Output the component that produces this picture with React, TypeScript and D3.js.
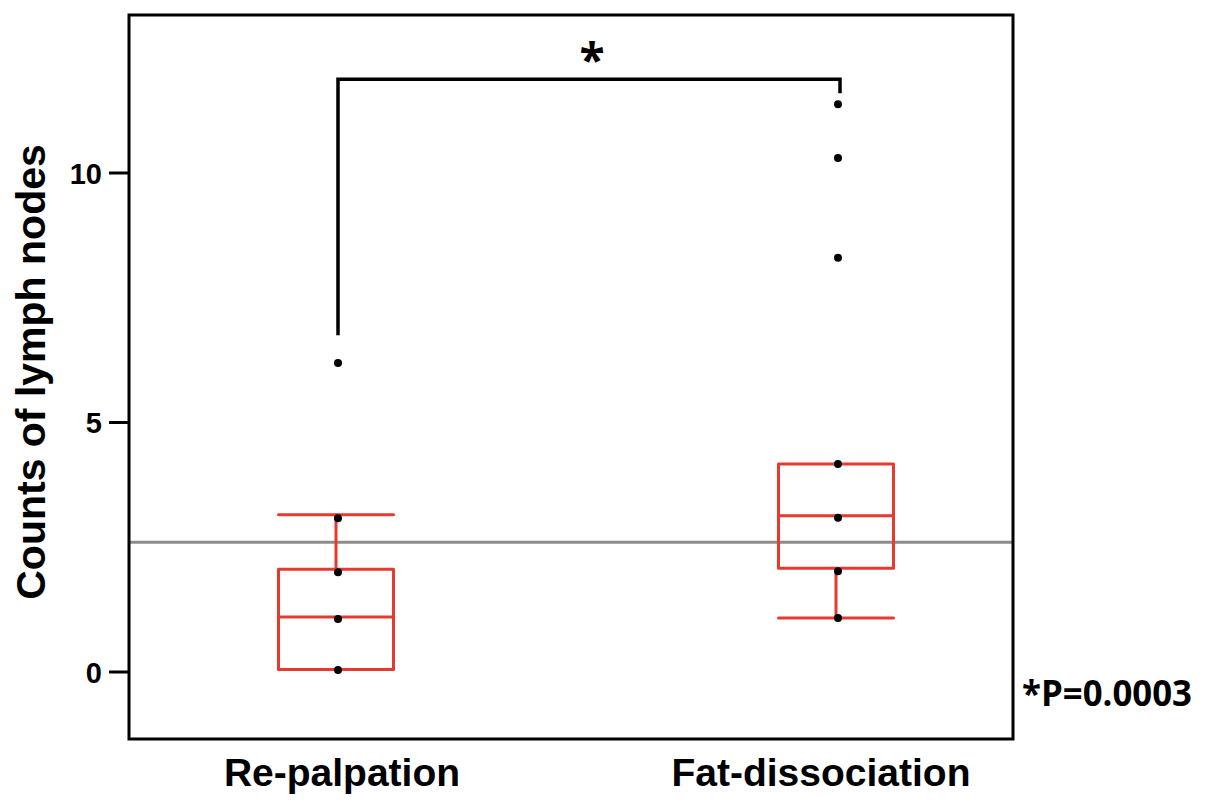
import React from "react";
import * as d3 from "d3";

const categories = ["Re-palpation", "Fat-dissociation"];
const rePalpationPoints = [0.04, 1.06, 2.0, 3.08, 6.19];
const fatDissociationPoints = [1.08, 2.02, 3.09, 4.17, 8.3, 10.3, 11.38];

// box summaries: [whiskerLow, q1, median, q3, whiskerHigh]
const rePalpationBox = [0.05, 0.05, 1.1, 2.06, 3.15];
const fatDissociationBox = [1.08, 2.08, 3.13, 4.17, 4.17];

const yTicks = [0, 5, 10];
const referenceLine = 2.6;
// significance bracket: top, left foot, right foot
const bracketTop = 11.88;
const bracketFeet = [6.75, 11.6];
const pLabel = "*P=0.0003";

const W = 1205;
const H = 807;
const frame = { left: 129, right: 1013, top: 15, bottom: 739 };

const RED = "#e63a2e";

export default function App() {
  const x = d3.scalePoint<string>().domain(categories).range([338, 838]);
  const y = d3.scaleLinear().domain([0, 10]).range([672, 173]);

  const points = [rePalpationPoints, fatDissociationPoints];
  const boxes = [rePalpationBox, fatDissociationBox];
  const halfBox = 57.5;

  return (
    <svg
      width={W}
      height={H}
      style={{ position: "absolute", left: 0, top: 0, background: "#fff" }}
    >
      {/* reference line */}
      <line
        x1={frame.left}
        x2={frame.right}
        y1={y(referenceLine)}
        y2={y(referenceLine)}
        stroke="#8c8c8c"
        strokeWidth={3.2}
      />

      {/* boxes */}
      {boxes.map((b, i) => {
        const cx = x(categories[i])! - 2;
        const [wl, q1, med, q3, wh] = b;
        return (
          <g
            key={i}
            fill="none"
            stroke={RED}
            strokeWidth={3}
            strokeLinejoin="round"
            strokeLinecap="round"
          >
            <rect
              x={cx - halfBox}
              y={y(q3)}
              width={halfBox * 2}
              height={y(q1) - y(q3)}
            />
            <line x1={cx - halfBox} x2={cx + halfBox} y1={y(med)} y2={y(med)} />
            {wh > q3 && (
              <>
                <line x1={cx} x2={cx} y1={y(q3)} y2={y(wh)} />
                <line x1={cx - halfBox} x2={cx + halfBox} y1={y(wh)} y2={y(wh)} />
              </>
            )}
            {wl < q1 && (
              <>
                <line x1={cx} x2={cx} y1={y(q1)} y2={y(wl)} />
                <line x1={cx - halfBox} x2={cx + halfBox} y1={y(wl)} y2={y(wl)} />
              </>
            )}
          </g>
        );
      })}

      {/* points */}
      {points.map((arr, i) =>
        arr.map((v, j) => (
          <circle key={`${i}-${j}`} cx={x(categories[i])!} cy={y(v)} r={4} fill="#000" />
        ))
      )}

      {/* significance bracket */}
      <path
        d={`M${x(categories[0])},${y(bracketFeet[0])}V${y(bracketTop)}H${x(
          categories[1]
        )! + 2}V${y(bracketFeet[1])}`}
        fill="none"
        stroke="#000"
        strokeWidth={3.5}
      />
      <text
        x={(x(categories[0])! + x(categories[1])!) / 2 + 4}
        y={y(bracketTop) - 2}
        textAnchor="middle"
        fontFamily="'Open Sans', sans-serif"
        fontWeight="bold"
        fontSize={46}
      >
        *
      </text>

      {/* frame */}
      <rect
        x={frame.left}
        y={frame.top}
        width={frame.right - frame.left}
        height={frame.bottom - frame.top}
        fill="none"
        stroke="#000"
        strokeWidth={3}
      />

      {/* y axis ticks */}
      {yTicks.map((t) => (
        <g key={t}>
          <line
            x1={frame.left - 20}
            x2={frame.left}
            y1={y(t)}
            y2={y(t)}
            stroke="#000"
            strokeWidth={3}
          />
          <text
            x={102}
            y={y(t) + 10.5}
            textAnchor="end"
            fontFamily="'Liberation Sans', Arial, sans-serif"
            fontWeight="bold"
            fontSize={29}
          >
            {t}
          </text>
        </g>
      ))}

      {/* y axis title */}
      <text
        transform={`translate(45,${372}) rotate(-90)`}
        textAnchor="middle"
        fontFamily="'Liberation Sans', Arial, sans-serif"
        fontWeight="bold"
        fontSize={41}
      >
        Counts of lymph nodes
      </text>

      {/* x labels */}
      {categories.map((c, i) => (
        <text
          key={c}
          x={x(c)! + (i === 0 ? 4 : -17)}
          y={786}
          textAnchor="middle"
          fontFamily="'Liberation Sans', Arial, sans-serif"
          fontWeight="bold"
          fontSize={39}
        >
          {c}
        </text>
      ))}

      {/* p value */}
      <text
        x={1022}
        y={706}
        fontFamily="'Open Sans', sans-serif"
        fontWeight="bold"
        fontSize={36}
        textLength={170}
        lengthAdjust="spacingAndGlyphs"
      >
        {pLabel}
      </text>
    </svg>
  );
}
